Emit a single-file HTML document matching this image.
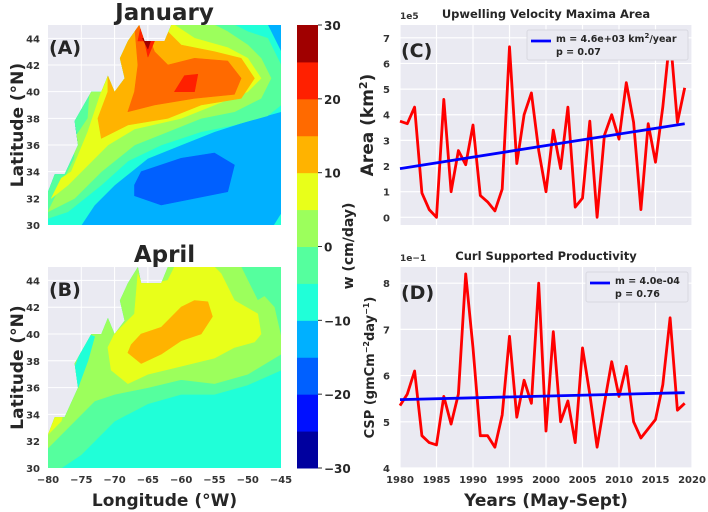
<!DOCTYPE html>
<html><head><meta charset="utf-8"><style>
body{margin:0;background:#fff;}
svg{display:block;font-family:"DejaVu Sans","Liberation Sans",sans-serif;font-weight:bold;}
</style></head><body>
<svg id="fig" width="708" height="512" viewBox="0 0 708 512" xmlns="http://www.w3.org/2000/svg">
<defs>
<clipPath id="oceanA"><polygon id="opA"/></clipPath>
<clipPath id="oceanB"><polygon id="opB"/></clipPath>
</defs>
<g id="mapA"></g>
<g id="mapB"></g>
<g id="cbar"></g>
<g id="chartC"></g>
<g id="chartD"></g>
</svg>
<script>
// ---- chart data ----
const years = [1980,1981,1982,1983,1984,1985,1986,1987,1988,1989,1990,1991,1992,1993,1994,1995,1996,1997,1998,1999,2000,2001,2002,2003,2004,2005,2006,2007,2008,2009,2010,2011,2012,2013,2014,2015,2016,2017,2018,2019];
const areaValues = [3.75,3.65,4.3,0.95,0.3,0.0,4.6,1.0,2.6,2.05,3.6,0.85,0.6,0.25,1.1,6.65,2.1,4.0,4.85,2.6,1.0,3.4,1.9,4.3,0.4,0.75,3.75,0.0,3.2,4.0,3.05,5.25,3.7,0.3,3.65,2.15,4.3,7.1,3.7,5.05];
const areaTrend = [1.9,3.65];
const cspValues = [5.35,5.6,6.1,4.7,4.55,4.5,5.55,4.95,5.6,8.2,6.6,4.7,4.7,4.45,5.15,6.85,5.1,5.9,5.4,8.0,4.8,6.95,5.0,5.45,4.55,6.6,5.6,4.45,5.4,6.3,5.55,6.2,5.0,4.65,4.85,5.05,5.8,7.25,5.25,5.4];
const cspTrend = [5.48,5.63];
const xTicks = [1980,1985,1990,1995,2000,2005,2010,2015,2020];
const areaTicks = [0,1,2,3,4,5,6,7];
const cspTicks = [4,5,6,7,8];
const cbarLevels = [-30,-25,-20,-15,-10,-5,0,5,10,15,20,25,30];
const cbarColors = ["#00009f","#0010ff","#0060ff","#00b0ff","#20ffd8","#55ff9e","#9cff5c","#e8ff1a","#ffb300","#ff6a00","#ff2000","#a00000"];
const cbarTicks = [-30,-20,-10,0,10,20,30];
const lonTicks = [-80,-75,-70,-65,-60,-55,-50,-45];
const latTicks = [30,32,34,36,38,40,42,44];

const NS="http://www.w3.org/2000/svg";
function mk(tag,attrs,parent,txt){const e=document.createElementNS(NS,tag);for(const k in attrs)e.setAttribute(k,attrs[k]);if(txt!==undefined)e.textContent=txt;parent.appendChild(e);return e;}

// ---- maps ----
const MX0=48,MX1=281;
function lonX(l){return MX0+(l+80)/35*(MX1-MX0);}
function pts(arr,Y){return arr.map(p=>lonX(p[0]).toFixed(1)+","+Y(p[1]).toFixed(1)).join(" ");}

const coastA=[[-80,30],[-45,30],[-45,45],[-61.5,45],[-62.5,43.8],[-65.5,43.8],[-66.3,45],[-68,43.8],[-69.2,42.5],[-68.5,41],[-70,40],[-71,41.2],[-72,40],[-73.5,40],[-76,37.8],[-75.5,36],[-77.5,33.8],[-79,33.8],[-80,32.5]];
const coastB=[[-80,30],[-45,30],[-45,45],[-62,45],[-63,43.8],[-66,43.8],[-66.5,45],[-68,43.8],[-69.2,42.5],[-68.5,41],[-70,40],[-71,41.2],[-72,40],[-73.5,40],[-76,37.8],[-75.5,36],[-77.5,33.8],[-79,33.8],[-80,32.5]];

const layersA=[
 ["#00b0ff",[[-80,30],[-45,30],[-45,45],[-80,45]]],
 ["#20ffd8",[[-80,30],[-75,30],[-73,31.5],[-70,33],[-65,35],[-60,36],[-55,37],[-50,37.8],[-45,38.5],[-45,43],[-47,45],[-80,45]]],
 ["#20ffd8",[[-46,30],[-45,30],[-45,30.8]]],
 ["#0060ff",[[-67,33],[-66,34],[-60,35],[-55,35.4],[-52,34.5],[-53,32.5],[-58,32],[-63,31.5],[-67,32.2]]],
 ["#0060ff",[[-76.3,37.5],[-75.6,36.3],[-75.2,37.2]]],
 ["#55ff9e",[[-80,30.5],[-77,31],[-72,33],[-68,34.8],[-63,36],[-57,37],[-52,37.5],[-47,38.2],[-45,39],[-45,42],[-47,44],[-50,44.5],[-52,45],[-80,45]]],
 ["#9cff5c",[[-80,31],[-76,32],[-72,34],[-67,36],[-62,37],[-57,38],[-52,38.5],[-48,39.5],[-46.5,41],[-48,42.5],[-50,43.5],[-53,44.5],[-55,45],[-73,45],[-74,38],[-76,36.5],[-76,35]]],
 ["#e8ff1a",[[-79.5,32],[-77,33],[-75,34],[-71,36],[-67,37.2],[-60,38],[-55,39],[-50,40],[-48,41],[-50,42.5],[-53,43.3],[-58,44],[-61,45],[-72,45],[-72,40],[-74,37],[-76.5,34],[-78,33.5]]],
 ["#ffb300",[[-72,36.5],[-68,37.5],[-62,38],[-57,39],[-51,39.5],[-49,41],[-51,42.5],[-55,43],[-60,43.5],[-62,44.5],[-62,45],[-71,45],[-71,40],[-72.5,38]]],
 ["#ff6a00",[[-68,38.5],[-64,39],[-58,39.5],[-52,39.8],[-51,41],[-53,42.3],[-58,42.5],[-62,42],[-64,43],[-65.5,45],[-67,45],[-66.5,42],[-67,40]]],
 ["#ff2000",[[-61,40],[-58,40],[-57.5,41.3],[-59.5,41.2]]],
 ["#ff2000",[[-66.5,43.8],[-64,43.8],[-65,42.6],[-66,45]]],
 ["#a00000",[[-65.8,44],[-64.6,43.8],[-65,43.2]]]
];
const layersB=[
 ["#20ffd8",[[-80,30],[-45,30],[-45,45],[-80,45]]],
 ["#55ff9e",[[-80,30],[-78,30],[-75,31],[-70,33.5],[-65,34.8],[-60,35.5],[-55,35.5],[-50,36.2],[-45,37.3],[-45,45],[-80,45]]],
 ["#9cff5c",[[-80,31.5],[-77,33],[-73,35],[-70,35.5],[-65,36],[-60,36.6],[-55,36.3],[-50,37],[-45,38.5],[-45,39.8],[-46,42],[-47.5,42.8],[-48.5,42.5],[-50,44],[-51,45],[-80,45]]],
 ["#20ffd8",[[-76,37.5],[-75.5,36],[-74,38],[-73,39.8],[-74,40]]],
 ["#e8ff1a",[[-80,32.5],[-78,33.5],[-77.5,34.5],[-79,34]]],
 ["#e8ff1a",[[-70.5,37.3],[-68,36.3],[-65,37],[-60,37.6],[-55,38.2],[-52,39],[-49,39.4],[-48,40],[-48.5,41.5],[-52,42.5],[-54,44.5],[-55,45],[-61,45],[-62,44],[-64,43.8],[-66,43.8],[-66.5,44.5],[-67,41.5],[-70,40],[-71,39]]],
 ["#ffb300",[[-68,38.6],[-66,37.8],[-63,38.5],[-60,39.5],[-57,40],[-55.3,41.3],[-56,42.4],[-58,42.5],[-60,42],[-63,40.5],[-66,40],[-67.5,39.2]]]
];

function drawMap(g,Y0,Y1,layers,coast,clipId,polyId,title,letter,showX){
  const Y=lat=>Y1-(lat-30)/15*(Y1-Y0);
  const r=mk('rect',{x:MX0,y:Y0,width:MX1-MX0,height:Y1-Y0,fill:'#eaeaf2'},g);
  
  
  lonTicks.forEach(l=>{if(l>-80&&l<-45)mk('line',{x1:lonX(l),x2:lonX(l),y1:Y0,y2:Y1,stroke:'#fff','stroke-width':1},g);});
  latTicks.forEach(l=>{if(l>30)mk('line',{x1:MX0,x2:MX1,y1:Y(l),y2:Y(l),stroke:'#fff','stroke-width':1},g);});
  document.getElementById(polyId).setAttribute('points',pts(coast,Y));
  const cg=mk('g',{'clip-path':'url(#'+clipId+')'},g);
  layers.forEach(L=>{
    const p=mk('polygon',{points:pts(L[1],Y),fill:L[0],stroke:L[0],'stroke-width':0.6,'stroke-linejoin':'round'},cg);
    
    
  });
  const t=mk('text',{x:(MX0+MX1)/2,y:Y0-5,'text-anchor':'middle','font-size':23,fill:'#262626'},g,title);
  
  
  const lt=mk('text',{x:MX0+1,y:Y0+29,'font-size':19,fill:'#262626'},g,letter);
  
  
  latTicks.forEach(l=>{
    const tt=mk('text',{x:MX0-8,y:Y(l)+4,'text-anchor':'end','font-size':10,fill:'#333'},g,String(l));
    
    
  });
  const yl=mk('text',{transform:'translate(23,'+((Y0+Y1)/2)+') rotate(-90)','text-anchor':'middle','font-size':17,fill:'#262626'},g,'Latitude (°N)');
  
  
  if(showX){
    lonTicks.forEach(l=>{
      const tt=mk('text',{x:lonX(l),y:Y1+15,'text-anchor':'middle','font-size':10,fill:'#333'},g,String(l).replace('-','\u2212'));
      
      
    });
    const xl=mk('text',{x:(MX0+MX1)/2,y:Y1+38,'text-anchor':'middle','font-size':17,fill:'#262626'},g,'Longitude (°W)');
    
    
  }
}
drawMap(document.getElementById('mapA'),25,225,layersA,coastA,'oceanA','opA','January','(A)',false);
drawMap(document.getElementById('mapB'),267,468,layersB,coastB,'oceanB','opB','April','(B)',true);

// ---- colorbar ----
(function(){
  const g=document.getElementById('cbar');
  const X0=297,X1=318,T=25,B=468;
  const cy=v=>B-(v+30)/60*(B-T);
  cbarColors.forEach((c,i)=>{
    const r=mk('rect',{x:X0,y:cy(cbarLevels[i+1]),width:X1-X0,height:cy(cbarLevels[i])-cy(cbarLevels[i+1])+0.5,fill:c},g);
    
    
  });
  cbarTicks.forEach(v=>{
    mk('line',{x1:X1,x2:X1+4,y1:cy(v),y2:cy(v),stroke:'#333','stroke-width':1},g);
    const t=mk('text',{x:X1+6,y:cy(v)+5,'font-size':12,fill:'#262626'},g,String(v).replace('-','\u2212'));
    
    
  });
  const l=mk('text',{transform:'translate(353,246) rotate(-90)','text-anchor':'middle','font-size':14,fill:'#262626'},g,'w (cm/day)');
  
  
})();

// ---- line charts ----
const CX0=400,CX1=692;
const xs=y=>CX0+(y-1980)/40*(CX1-CX0);
function drawChart(g,T,B,yMin,yMax,vals,trend,ticks,title,mult,letter,ylab,legendLines,legX,showX){
  const Y=v=>B-(v-yMin)/(yMax-yMin)*(B-T);
  const bg=mk('rect',{x:CX0,y:T,width:CX1-CX0,height:B-T,fill:'#eaeaf2'},g);
  
  
  xTicks.forEach(x=>{mk('line',{x1:xs(x),x2:xs(x),y1:T,y2:B,stroke:'#fff','stroke-width':1.2},g);});
  ticks.forEach(v=>{
    mk('line',{x1:CX0,x2:CX1,y1:Y(v),y2:Y(v),stroke:'#fff','stroke-width':1.2},g);
    const t=mk('text',{x:CX0-10,y:Y(v)+4,'text-anchor':'end','font-size':10,fill:'#333'},g,String(v));
    
    
  });
  const line=mk('polyline',{points:vals.map((v,i)=>xs(years[i]).toFixed(1)+','+Y(v).toFixed(1)).join(' '),fill:'none',stroke:'#ff0000','stroke-width':2.8,'stroke-linejoin':'round'},g);
  
  
  const tl=mk('line',{x1:xs(years[0]),y1:Y(trend[0]),x2:xs(years[years.length-1]),y2:Y(trend[1]),stroke:'#0000ff','stroke-width':2.8},g);
  
  
  const tt=mk('text',{x:(CX0+CX1)/2,y:T-7,'text-anchor':'middle','font-size':11.5,fill:'#262626'},g,title);
  
  
  const m=mk('text',{x:CX0,y:T-6,'font-size':9,fill:'#333'},g,mult);
  
  
  const lt=mk('text',{x:CX0+1,y:T+32,'font-size':19,fill:'#262626'},g,letter);
  
  
  const lg=mk('g',{},g);
  
  
  mk('rect',{x:legX,y:T+5,width:688-legX,height:30,fill:'#eaeaf2',stroke:'#d8d8e0',rx:2},lg);
  mk('line',{x1:legX+4,x2:legX+24,y1:T+16,y2:T+16,stroke:'#0000ff','stroke-width':2.8},lg);
  const l1=mk('text',{x:legX+29,y:T+17,'font-size':9.5,fill:'#262626'},lg);
  l1.innerHTML=legendLines[0];
  mk('text',{x:legX+29,y:T+30,'font-size':9.5,fill:'#262626'},lg,legendLines[1]);
  const yl=mk('text',{transform:'translate('+ylab[1]+','+((T+B)/2)+') rotate(-90)','text-anchor':'middle','font-size':ylab[2],fill:'#262626'},g);
  yl.innerHTML=ylab[0];
  
  
  if(showX){
    xTicks.forEach(x=>{
      const t=mk('text',{x:xs(x),y:B+15,'text-anchor':'middle','font-size':10,fill:'#333'},g,String(x));
      
      
    });
    const xl=mk('text',{x:(CX0+CX1)/2,y:B+38,'text-anchor':'middle','font-size':17,fill:'#262626'},g,'Years (May-Sept)');
    
    
  }
}
drawChart(document.getElementById('chartC'),25,225,-0.3,7.5,areaValues,areaTrend,areaTicks,'Upwelling Velocity Maxima Area','1e5','(C)',
  ['Area (km<tspan dy="-6" font-size="11">2</tspan><tspan dy="6">)</tspan>',373,17],
  ['m = 4.6e+03 km<tspan dy="-4" font-size="7">2</tspan><tspan dy="4">/year</tspan>','p = 0.07'],527,false);
drawChart(document.getElementById('chartD'),267,468,4,8.35,cspValues,cspTrend,cspTicks,'Curl Supported Productivity','1e\u22121','(D)',
  ['CSP (gmCm<tspan dy="-5" font-size="8">\u22122</tspan><tspan dy="5">day</tspan><tspan dy="-5" font-size="8">\u22121</tspan><tspan dy="5">)</tspan>',374,13],
  ['m = 4.0e-04','p = 0.76'],586,true);
</script>
</body></html>
